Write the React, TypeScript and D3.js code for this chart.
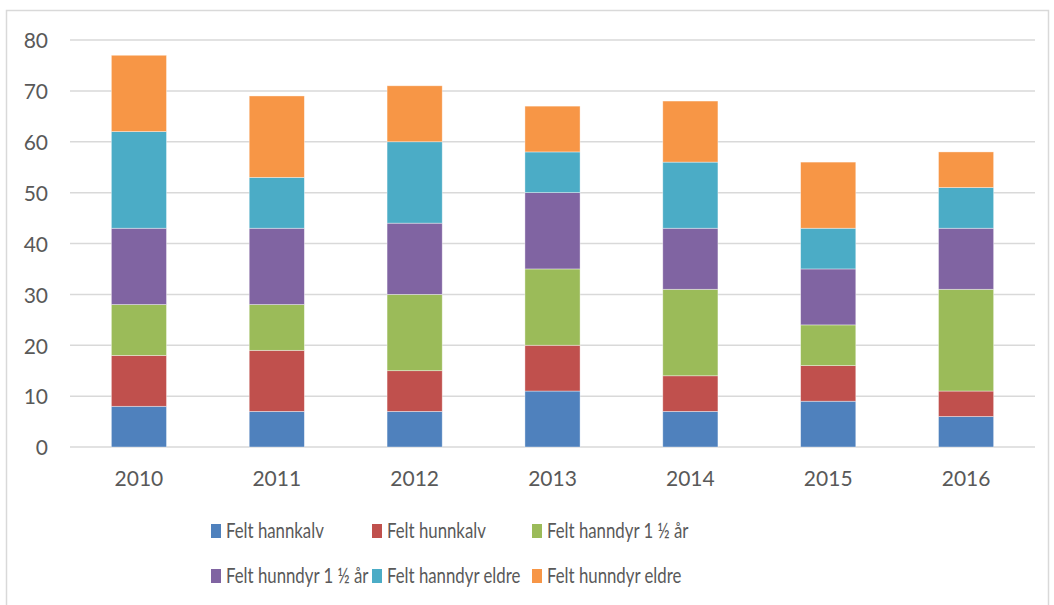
import * as d3 from 'd3';

// Values
const years = ['2010', '2011', '2012', '2013', '2014', '2015', '2016'];
const seriesNames = [
  'Felt hannkalv',
  'Felt hunnkalv',
  'Felt hanndyr 1 ½ år',
  'Felt hunndyr 1 ½ år',
  'Felt hanndyr eldre',
  'Felt hunndyr eldre',
];
const hannkalv = [8, 7, 7, 11, 7, 9, 6];
const hunnkalv = [10, 12, 8, 9, 7, 7, 5];
const hanndyr15 = [10, 9, 15, 15, 17, 8, 20];
const hunndyr15 = [15, 15, 14, 15, 12, 11, 12];
const hanndyrEldre = [19, 10, 16, 8, 13, 8, 8];
const hunndyrEldre = [15, 16, 11, 9, 12, 13, 7];
const colors = ['#4F81BD', '#C0504D', '#9BBB59', '#8064A2', '#4BACC6', '#F79646'];
const yTicks = [0, 10, 20, 30, 40, 50, 60, 70, 80];

const W = 1054;
const H = 605;
const font = 'Lato, "Open Sans", sans-serif';

export default function App() {
  const series = [hannkalv, hunnkalv, hanndyr15, hunndyr15, hanndyrEldre, hunndyrEldre];
  const rows = years.map((y, i) => {
    const r: Record<string, number | string> = { year: y };
    seriesNames.forEach((n, k) => (r[n] = series[k][i]));
    return r;
  });
  const stacked = d3.stack<any>().keys(seriesNames)(rows);

  const x = d3.scaleBand().domain(years).range([70, 1035]).paddingInner(0.6).paddingOuter(0.3);
  const y = d3.scaleLinear().domain([0, 80]).range([447, 40]);

  // legend layout
  const legendCols = [211, 372, 532];
  const legendRows = [531, 576];

  return (
    <svg width={W} height={H} style={{ position: 'absolute', left: 0, top: 0, background: '#fff' }}>
      <rect x={6.5} y={10.5} width={1042} height={600} fill="#fff" stroke="#d9d9d9" strokeWidth={1.5} />
      {yTicks.map(t => (
        <g key={t}>
          <line x1={70} x2={1035} y1={y(t)} y2={y(t)} stroke="#d9d9d9" strokeWidth={1.5} />
          <text x={48} y={y(t) + 1} dy="0.35em" textAnchor="end" fontFamily={font} fontSize={21} fill="#595959">
            {t}
          </text>
        </g>
      ))}
      {stacked.map((layer, k) => (
        <g key={layer.key} fill={colors[k]}>
          {layer.map((d, i) => (
            <rect
              key={i}
              x={x(years[i])}
              width={x.bandwidth()}
              y={y(d[1])}
              height={y(d[0]) - y(d[1])}
              stroke="#ffffff"
              strokeOpacity={0.5}
              strokeWidth={0.75}
            />
          ))}
        </g>
      ))}
      {years.map(yr => (
        <text
          key={yr}
          x={(x(yr) as number) + x.bandwidth() / 2}
          y={479}
          dy="0.35em"
          textAnchor="middle"
          fontFamily={font}
          fontSize={21}
          fill="#595959"
        >
          {yr}
        </text>
      ))}
      {seriesNames.map((n, k) => {
        const lx = legendCols[k % 3];
        const ly = legendRows[Math.floor(k / 3)];
        return (
          <g key={n}>
            <rect x={lx} y={ly - 7} width={10} height={14} fill={colors[k]} />
            <text
              transform={`translate(${lx + 15},${ly}) scale(0.8,1)`}
              dy="0.35em"
              fontFamily={font}
              fontSize={21}
              fill="#595959"
            >
              {n}
            </text>
          </g>
        );
      })}
    </svg>
  );
}
